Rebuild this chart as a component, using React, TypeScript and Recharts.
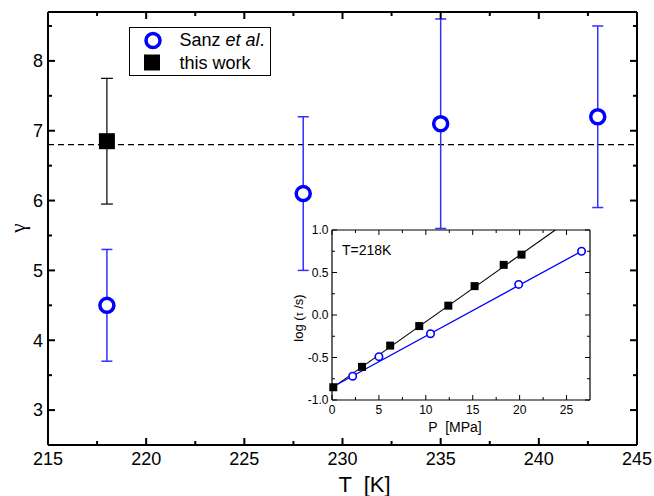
import React from "react";
import {
  ComposedChart,
  ErrorBar,
  Line,
  ReferenceLine,
  Scatter,
  XAxis,
  YAxis,
} from "recharts";

const FONT = "'Liberation Sans', Arial, sans-serif";
const BLUE = "#0000ff";
const BLUE_BAR = "#3030ff";

// main panel: gamma vs T
const sanzT = [218, 228, 235, 243];
const sanzGamma = [4.5, 6.1, 7.1, 7.2];
const sanzLow = [3.7, 5.0, 5.6, 5.9];
const sanzHigh = [5.3, 7.2, 8.6, 8.5];

const workT = [218];
const workGamma = [6.85];
const workLow = [5.95];
const workHigh = [7.75];

const gammaMean = 6.8;

const tMajor = [215, 220, 225, 230, 235, 240, 245];
const tMinor = [217.5, 222.5, 227.5, 232.5, 237.5, 242.5];
const gammaMajor = [3, 4, 5, 6, 7, 8];
const gammaMinor = [3.5, 4.5, 5.5, 6.5, 7.5, 8.5];

// inset: log(tau) vs P at 218 K
const sanzP = [2.2, 5.0, 10.5, 19.9, 26.6];
const sanzLogTau = [-0.72, -0.49, -0.22, 0.36, 0.75];
const workP = [0.14, 3.2, 6.2, 9.3, 12.4, 15.2, 18.3, 20.2];
const workLogTau = [-0.85, -0.61, -0.36, -0.13, 0.11, 0.34, 0.59, 0.71];

// fitted straight lines (end points)
const sanzFitP = [0, 26.6];
const sanzFitLogTau = [-0.85, 0.75];
const workFitP = [0, 23.8];
const workFitLogTau = [-0.86, 1.0];

const pMajor = [0, 5, 10, 15, 20, 25];
const pMinor = [2.5, 7.5, 12.5, 17.5, 22.5];
const logMajor = [-1, -0.5, 0, 0.5, 1];
const logMinor = [-0.75, -0.25, 0.25, 0.75];

type Dom = [number, number];
type Dir = "up" | "down" | "left" | "right";

// bottom tick: inward mark plus label below
function bottomTick(font: number, gap: number, len: number, sw: number) {
  return (props: any) => {
    const { x, y, payload } = props;
    return (
      <g>
        <line x1={x} y1={y} x2={x} y2={y - len} stroke="#000" strokeWidth={sw} />
        <text x={x} y={y + gap} dy="0.35em" textAnchor="middle" fontSize={font} fontFamily={FONT} fill="#000">
          {String(payload?.value)}
        </text>
      </g>
    );
  };
}

const noTick = () => <g />;

// a short stroke from the frame inwards, placed by the chart's own scales
const tickShape = (dir: Dir, len: number, sw: number) => (props: any) => {
  const { cx, cy } = props;
  const dx = dir === "right" ? len : dir === "left" ? -len : 0;
  const dy = dir === "down" ? len : dir === "up" ? -len : 0;
  return <line x1={cx} y1={cy} x2={cx + dx} y2={cy + dy} stroke="#000" strokeWidth={sw} />;
};

const alongX = (vals: number[], y: number) => vals.map((v) => ({ x: v, y }));
const alongY = (vals: number[], x: number) => vals.map((v) => ({ x, y: v }));

const openCircle = (r: number, sw: number) => (props: any) => (
  <circle cx={props.cx} cy={props.cy} r={r} fill="#fff" stroke={BLUE} strokeWidth={sw} />
);

const filledSquare = (size: number) => (props: any) => (
  <rect x={props.cx - size / 2} y={props.cy - size / 2} width={size} height={size} fill="#000" />
);

export default function App() {
  const sanzRows = sanzT.map((t, i) => ({
    x: t,
    y: sanzGamma[i],
    err: [sanzGamma[i] - sanzLow[i], sanzHigh[i] - sanzGamma[i]],
  }));
  const workRows = workT.map((t, i) => ({
    x: t,
    y: workGamma[i],
    err: [workGamma[i] - workLow[i], workHigh[i] - workGamma[i]],
  }));
  const sanzInset = sanzP.map((p, i) => ({ x: p, y: sanzLogTau[i] }));
  const workInset = workP.map((p, i) => ({ x: p, y: workLogTau[i] }));
  const sanzFit = sanzFitP.map((p, i) => ({ x: p, y: sanzFitLogTau[i] }));
  const workFit = workFitP.map((p, i) => ({ x: p, y: workFitLogTau[i] }));

  const tDomain: Dom = [215, 245];
  const gDomain: Dom = [2.5, 8.7];
  const pDomain: Dom = [0, 27.5];
  const lDomain: Dom = [-1, 1];

  const mainAxisLine = { stroke: "#000", strokeWidth: 2 };
  const insetAxisLine = { stroke: "#000", strokeWidth: 1.2 };

  return (
    <div style={{ position: "absolute", left: 0, top: 0, width: 654, height: 496, background: "#fff", fontFamily: FONT }}>
      <ComposedChart width={654} height={496} margin={{ top: 12, right: 17, bottom: 11, left: 8 }}>
        <XAxis
          xAxisId="b"
          dataKey="x"
          type="number"
          domain={tDomain}
          ticks={tMajor}
          interval={0}
          height={40}
          tickSize={0}
          tickMargin={0}
          tickLine={false}
          axisLine={mainAxisLine}
          tick={bottomTick(18, 14, 7, 2)}
          label={(p: any) => {
            const vb = p.viewBox ?? {};
            return (
              <text
                x={vb.x + vb.width / 2 + 22}
                y={vb.y + 47}
                textAnchor="middle"
                fontSize={22}
                fontFamily={FONT}
                fill="#000"
                style={{ whiteSpace: "pre" }}
              >
                {"T  [K]"}
              </text>
            );
          }}
        />
        <YAxis
          yAxisId="l"
          dataKey="y"
          type="number"
          domain={gDomain}
          ticks={gammaMajor}
          interval={0}
          width={40}
          tickSize={-7}
          tickMargin={12}
          tickLine={{ stroke: "#000", strokeWidth: 2 }}
          axisLine={mainAxisLine}
          tick={{ fontSize: 18, fill: "#000", fontFamily: FONT }}
        />
        <XAxis
          xAxisId="frameTop"
          orientation="top"
          mirror
          dataKey="x"
          type="number"
          domain={tDomain}
          height={0.01}
          tick={noTick}
          tickLine={false}
          axisLine={mainAxisLine}
        />
        <YAxis
          yAxisId="frameRight"
          orientation="right"
          mirror
          dataKey="y"
          type="number"
          domain={gDomain}
          width={0.01}
          tick={noTick}
          tickLine={false}
          axisLine={mainAxisLine}
        />
        {/* inward tick marks */}
        <Scatter xAxisId="b" yAxisId="l" data={alongX(tMinor, gDomain[0])} dataKey="y" shape={tickShape("up", 4, 2)} isAnimationActive={false} />
        <Scatter xAxisId="b" yAxisId="l" data={alongX(tMajor, gDomain[1])} dataKey="y" shape={tickShape("down", 7, 2)} isAnimationActive={false} />
        <Scatter xAxisId="b" yAxisId="l" data={alongX(tMinor, gDomain[1])} dataKey="y" shape={tickShape("down", 4, 2)} isAnimationActive={false} />
        <Scatter xAxisId="b" yAxisId="l" data={alongY(gammaMinor, tDomain[0])} dataKey="y" shape={tickShape("right", 4, 2)} isAnimationActive={false} />
        <Scatter xAxisId="b" yAxisId="l" data={alongY(gammaMajor, tDomain[1])} dataKey="y" shape={tickShape("left", 7, 2)} isAnimationActive={false} />
        <Scatter xAxisId="b" yAxisId="l" data={alongY(gammaMinor, tDomain[1])} dataKey="y" shape={tickShape("left", 4, 2)} isAnimationActive={false} />
        <ReferenceLine
          xAxisId="b"
          yAxisId="l"
          y={gammaMean}
          stroke="#000"
          strokeWidth={1.2}
          strokeDasharray="6 4"
        />
        <Scatter
          name="Sanz et al."
          xAxisId="b"
          yAxisId="l"
          data={sanzRows}
          dataKey="y"
          shape={openCircle(7, 3.5)}
          isAnimationActive={false}
        >
          <ErrorBar dataKey="err" direction="y" width={5.5} stroke={BLUE_BAR} strokeWidth={1.5} />
        </Scatter>
        <Scatter
          name="this work"
          xAxisId="b"
          yAxisId="l"
          data={workRows}
          dataKey="y"
          shape={filledSquare(16)}
          isAnimationActive={false}
        >
          <ErrorBar dataKey="err" direction="y" width={6} stroke="#000" strokeWidth={1.2} />
        </Scatter>
      </ComposedChart>

      {/* y title of the main panel */}
      <div
        style={{
          position: "absolute",
          left: 6,
          top: 216,
          width: 24,
          height: 24,
          lineHeight: "24px",
          textAlign: "center",
          fontSize: 21,
          fontFamily: "'Liberation Serif', 'DejaVu Serif', serif",
          transform: "rotate(-90deg)",
          color: "#000",
        }}
      >
        γ
      </div>

      {/* legend */}
      <div
        style={{
          position: "absolute",
          left: 129,
          top: 27,
          width: 142,
          height: 49,
          border: "1.5px solid #000",
          boxSizing: "border-box",
          background: "#fff",
          fontSize: 18,
          color: "#000",
        }}
      >
        <svg style={{ position: "absolute", left: 0, top: 0 }} width={139} height={46}>
          <circle cx={23} cy={12.5} r={7} fill="#fff" stroke={BLUE} strokeWidth={3.5} />
          <rect x={14} y={26.5} width={16} height={16} fill="#000" />
        </svg>
        <div style={{ position: "absolute", left: 49.5, top: 2, whiteSpace: "nowrap" }}>
          Sanz <i>et al</i>.
        </div>
        <div style={{ position: "absolute", left: 49.5, top: 25, whiteSpace: "nowrap" }}>this work</div>
      </div>

      {/* inset */}
      <div style={{ position: "absolute", left: 280, top: 222, width: 320, height: 222 }}>
        <ComposedChart width={320} height={222} margin={{ top: 8, right: 10, bottom: 14, left: 12 }}>
          <XAxis
            xAxisId="b"
            dataKey="x"
            type="number"
            domain={pDomain}
            ticks={pMajor}
            interval={0}
            height={30}
            tickSize={0}
            tickMargin={0}
            tickLine={false}
            axisLine={insetAxisLine}
            tick={bottomTick(12, 10, 5, 1)}
            label={(p: any) => {
              const vb = p.viewBox ?? {};
              return (
                <text
                  x={vb.x + vb.width / 2 - 6}
                  y={vb.y + 32}
                  textAnchor="middle"
                  fontSize={14}
                  fontFamily={FONT}
                  fill="#000"
                  style={{ whiteSpace: "pre" }}
                >
                  {"P  [MPa]"}
                </text>
              );
            }}
          />
          <YAxis
            yAxisId="l"
            dataKey="y"
            type="number"
            domain={lDomain}
            ticks={logMajor}
            interval={0}
            width={40}
            tickSize={-5}
            tickMargin={8.5}
            tickLine={{ stroke: "#000", strokeWidth: 1 }}
            axisLine={insetAxisLine}
            tickFormatter={(v: number) => v.toFixed(1)}
            tick={{ fontSize: 12, fill: "#000", fontFamily: FONT }}
          />
          <XAxis
            xAxisId="frameTop"
            orientation="top"
            mirror
            dataKey="x"
            type="number"
            domain={pDomain}
            height={0.01}
            tick={noTick}
            tickLine={false}
            axisLine={insetAxisLine}
          />
          <YAxis
            yAxisId="frameRight"
            orientation="right"
            mirror
            dataKey="y"
            type="number"
            domain={lDomain}
            width={0.01}
            tick={noTick}
            tickLine={false}
            axisLine={insetAxisLine}
          />
          {/* inward tick marks */}
          <Scatter xAxisId="b" yAxisId="l" data={alongX(pMinor, lDomain[0])} dataKey="y" shape={tickShape("up", 3, 1)} isAnimationActive={false} />
          <Scatter xAxisId="b" yAxisId="l" data={alongX(pMajor, lDomain[1])} dataKey="y" shape={tickShape("down", 5, 1)} isAnimationActive={false} />
          <Scatter xAxisId="b" yAxisId="l" data={alongX(pMinor, lDomain[1])} dataKey="y" shape={tickShape("down", 3, 1)} isAnimationActive={false} />
          <Scatter xAxisId="b" yAxisId="l" data={alongY(logMinor, pDomain[0])} dataKey="y" shape={tickShape("right", 3, 1)} isAnimationActive={false} />
          <Scatter xAxisId="b" yAxisId="l" data={alongY(logMajor, pDomain[1])} dataKey="y" shape={tickShape("left", 5, 1)} isAnimationActive={false} />
          <Scatter xAxisId="b" yAxisId="l" data={alongY(logMinor, pDomain[1])} dataKey="y" shape={tickShape("left", 3, 1)} isAnimationActive={false} />
          <Line
            xAxisId="b"
            yAxisId="l"
            data={workFit}
            dataKey="y"
            type="linear"
            stroke="#000"
            strokeWidth={1.1}
            dot={false}
            activeDot={false}
            isAnimationActive={false}
          />
          <Line
            xAxisId="b"
            yAxisId="l"
            data={sanzFit}
            dataKey="y"
            type="linear"
            stroke={BLUE}
            strokeWidth={1.3}
            dot={false}
            activeDot={false}
            isAnimationActive={false}
          />
          <Scatter
            xAxisId="b"
            yAxisId="l"
            data={workInset}
            dataKey="y"
            shape={filledSquare(8)}
            isAnimationActive={false}
          />
          <Scatter
            xAxisId="b"
            yAxisId="l"
            data={sanzInset}
            dataKey="y"
            shape={openCircle(3.7, 1.6)}
            isAnimationActive={false}
          />
        </ComposedChart>
        <div
          style={{
            position: "absolute",
            left: -21,
            top: 88,
            width: 80,
            height: 16,
            lineHeight: "16px",
            textAlign: "center",
            fontSize: 13,
            whiteSpace: "pre",
            transform: "rotate(-90deg)",
            color: "#000",
          }}
        >
          log (<span style={{ fontSize: 10 }}>τ</span> /s)
        </div>
        <div style={{ position: "absolute", left: 62, top: 20, fontSize: 14, color: "#000", whiteSpace: "nowrap" }}>
          T=218K
        </div>
      </div>
    </div>
  );
}
